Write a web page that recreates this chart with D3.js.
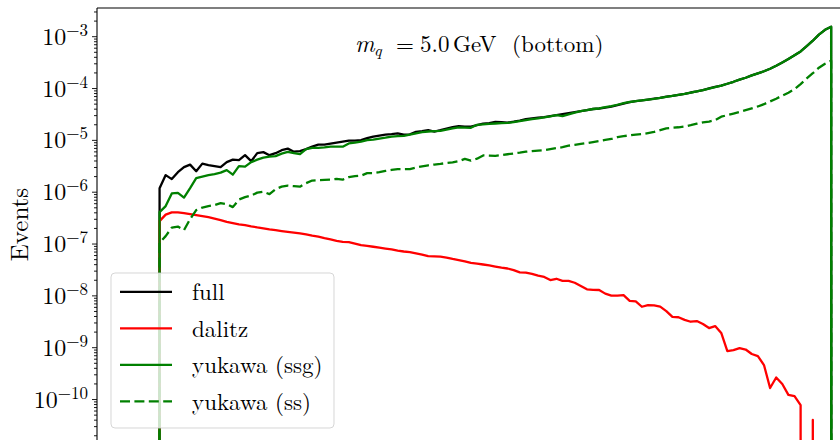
<!DOCTYPE html>
<html>
<head>
<meta charset="utf-8">
<script src="https://cdn.jsdelivr.net/npm/d3@7"></script>
<style>
  html, body { margin: 0; padding: 0; background: #fff; overflow: hidden; }
  svg { display: block; }
  text { font-family: "Latin Modern Roman", "CMU Serif", "Liberation Serif", serif; fill: #000; }
</style>
</head>
<body>
<svg id="chart" width="840" height="440"></svg>
<script>
// Histogram bin centres (GeV); the first and last bins lie outside the kinematic range.
const massBins = d3.range(9, 122);

// Events per bin, one array per contribution (bins 9 .. 121).
const fullEvents = [
  0,
  1.17e-6, 2.09e-6, 1.75e-6, 2.38e-6, 2.98e-6, 3.33e-6, 2.49e-6, 3.48e-6, 3.25e-6, 3.11e-6,
  2.98e-6, 3.72e-6, 4.15e-6, 4.06e-6, 5.07e-6, 3.88e-6, 5.54e-6, 5.80e-6, 5.07e-6, 5.54e-6,
  6.33e-6, 6.77e-6, 5.92e-6, 6.06e-6, 6.62e-6, 7.39e-6, 8.08e-6, 8.08e-6, 8.45e-6, 8.83e-6,
  9.23e-6, 9.65e-6, 9.65e-6, 9.88e-6, 1.08e-5, 1.15e-5, 1.21e-5, 1.26e-5, 1.29e-5, 1.33e-5,
  1.26e-5, 1.28e-5, 1.43e-5, 1.47e-5, 1.54e-5, 1.45e-5, 1.54e-5, 1.65e-5, 1.76e-5, 1.84e-5,
  1.80e-5, 1.80e-5, 1.92e-5, 2.05e-5, 2.10e-5, 2.22e-5, 2.20e-5, 2.15e-5, 2.24e-5, 2.35e-5,
  2.51e-5, 2.61e-5, 2.68e-5, 2.74e-5, 2.87e-5, 3.00e-5, 3.13e-5, 3.27e-5, 3.42e-5, 3.58e-5,
  3.74e-5, 3.94e-5, 4.03e-5, 4.18e-5, 4.37e-5, 4.67e-5, 4.99e-5, 5.33e-5, 5.58e-5, 5.76e-5,
  6.00e-5, 6.25e-5, 6.45e-5, 6.80e-5, 7.03e-5, 7.40e-5, 7.75e-5, 8.20e-5, 8.60e-5, 9.15e-5,
  9.80e-5, 1.05e-4, 1.11e-4, 1.21e-4, 1.32e-4, 1.45e-4, 1.58e-4, 1.75e-4, 1.92e-4, 2.11e-4,
  2.36e-4, 2.70e-4, 3.12e-4, 3.63e-4, 4.30e-4, 5.09e-4, 6.42e-4, 8.18e-4, 1.07e-3, 1.33e-3,
  1.52e-3,
  0
];

const dalitzEvents = [
  0,
  2.71e-7, 3.61e-7, 3.98e-7, 3.98e-7, 3.86e-7, 3.69e-7, 3.53e-7, 3.38e-7, 3.23e-7, 3.03e-7,
  2.83e-7, 2.62e-7, 2.48e-7, 2.35e-7, 2.27e-7, 2.15e-7, 2.05e-7, 1.97e-7, 1.88e-7, 1.81e-7,
  1.74e-7, 1.68e-7, 1.63e-7, 1.57e-7, 1.50e-7, 1.42e-7, 1.36e-7, 1.27e-7, 1.20e-7, 1.12e-7,
  1.08e-7, 1.06e-7, 9.98e-8, 9.30e-8, 9.04e-8, 8.67e-8, 8.31e-8, 8.01e-8, 7.73e-8, 7.30e-8,
  7.02e-8, 6.84e-8, 6.47e-8, 6.11e-8, 5.72e-8, 5.64e-8, 5.57e-8, 5.37e-8, 5.05e-8, 4.79e-8,
  4.52e-8, 4.23e-8, 4.08e-8, 3.94e-8, 3.80e-8, 3.60e-8, 3.43e-8, 3.30e-8, 3.07e-8, 2.78e-8,
  2.74e-8, 2.60e-8, 2.40e-8, 2.27e-8, 1.97e-8, 2.09e-8, 1.91e-8, 1.90e-8, 1.75e-8, 1.52e-8,
  1.31e-8, 1.28e-8, 1.27e-8, 1.08e-8, 9.91e-9, 9.91e-9, 1.01e-8, 7.86e-9, 7.69e-9, 6.03e-9,
  6.49e-9, 6.43e-9, 6.08e-9, 4.98e-9, 3.85e-9, 3.78e-9, 3.37e-9, 3.10e-9, 3.19e-9, 2.80e-9,
  2.34e-9, 2.56e-9, 1.88e-9, 8.42e-10, 8.81e-10, 9.62e-10, 9.01e-10, 7.39e-10, 6.75e-10, 4.52e-10,
  1.63e-10, 2.60e-10, 1.95e-10, 1.20e-10, 1.14e-10, 7.65e-11, 0, 3.94e-11, 0, 0,
  0,
  0
];

const yukawaSsgEvents = [
  0,
  4.03e-7, 5.27e-7, 9.28e-7, 9.51e-7, 7.68e-7, 1.17e-6, 1.83e-6, 1.95e-6, 2.09e-6, 2.18e-6,
  2.33e-6, 2.61e-6, 2.13e-6, 3.11e-6, 3.04e-6, 3.72e-6, 4.15e-6, 4.54e-6, 4.74e-6, 4.85e-6,
  5.42e-6, 5.87e-6, 5.54e-6, 5.30e-6, 6.62e-6, 7.02e-6, 7.02e-6, 7.15e-6, 7.39e-6, 7.39e-6,
  7.39e-6, 8.53e-6, 8.83e-6, 9.23e-6, 9.88e-6, 1.01e-5, 1.06e-5, 1.10e-5, 1.15e-5, 1.18e-5,
  1.19e-5, 1.26e-5, 1.34e-5, 1.41e-5, 1.45e-5, 1.47e-5, 1.49e-5, 1.57e-5, 1.66e-5, 1.74e-5,
  1.73e-5, 1.71e-5, 1.95e-5, 1.99e-5, 2.04e-5, 2.07e-5, 2.10e-5, 2.12e-5, 2.20e-5, 2.30e-5,
  2.40e-5, 2.51e-5, 2.61e-5, 2.71e-5, 2.84e-5, 3.00e-5, 2.87e-5, 3.09e-5, 3.34e-5, 3.58e-5,
  3.74e-5, 3.94e-5, 4.03e-5, 4.27e-5, 4.46e-5, 4.76e-5, 5.10e-5, 5.38e-5, 5.58e-5, 5.76e-5,
  5.96e-5, 6.17e-5, 6.45e-5, 6.72e-5, 7.03e-5, 7.35e-5, 7.70e-5, 8.13e-5, 8.59e-5, 9.10e-5,
  9.72e-5, 1.04e-4, 1.11e-4, 1.21e-4, 1.32e-4, 1.45e-4, 1.58e-4, 1.75e-4, 1.92e-4, 2.11e-4,
  2.36e-4, 2.70e-4, 3.12e-4, 3.63e-4, 4.30e-4, 5.09e-4, 6.42e-4, 8.18e-4, 1.07e-3, 1.33e-3,
  1.52e-3,
  0
];

const yukawaSsEvents = [
  0,
  1.04e-7, 1.39e-7, 2.03e-7, 2.12e-7, 1.81e-7, 2.96e-7, 4.41e-7, 4.94e-7, 5.27e-7, 5.51e-7,
  6.03e-7, 5.77e-7, 5.04e-7, 7.05e-7, 7.85e-7, 8.41e-7, 9.60e-7, 1.00e-6, 8.98e-7, 1.12e-6,
  1.25e-6, 1.31e-6, 1.28e-6, 1.25e-6, 1.46e-6, 1.64e-6, 1.67e-6, 1.69e-6, 1.71e-6, 1.76e-6,
  1.71e-6, 1.91e-6, 2.00e-6, 2.04e-6, 2.28e-6, 2.28e-6, 2.38e-6, 2.52e-6, 2.63e-6, 2.73e-6,
  2.73e-6, 2.73e-6, 2.91e-6, 3.09e-6, 3.23e-6, 3.34e-6, 3.44e-6, 3.57e-6, 3.68e-6, 3.88e-6,
  4.29e-6, 3.97e-6, 4.33e-6, 5.01e-6, 4.97e-6, 4.92e-6, 5.07e-6, 5.28e-6, 5.47e-6, 5.67e-6,
  5.92e-6, 6.06e-6, 6.19e-6, 6.30e-6, 6.62e-6, 6.92e-6, 7.23e-6, 7.72e-6, 8.00e-6, 8.35e-6,
  8.66e-6, 9.05e-6, 9.46e-6, 9.96e-6, 1.04e-5, 1.13e-5, 1.18e-5, 1.22e-5, 1.26e-5, 1.29e-5,
  1.35e-5, 1.42e-5, 1.54e-5, 1.66e-5, 1.71e-5, 1.75e-5, 1.81e-5, 1.92e-5, 2.05e-5, 2.17e-5,
  2.25e-5, 2.40e-5, 2.80e-5, 3.00e-5, 3.21e-5, 3.45e-5, 3.74e-5, 4.05e-5, 4.41e-5, 4.88e-5,
  5.52e-5, 6.23e-5, 7.13e-5, 8.13e-5, 9.50e-5, 1.19e-4, 1.53e-4, 1.93e-4, 2.47e-4, 2.95e-4,
  3.37e-4,
  0
];

const seriesNames = ["full", "dalitz", "yukawa (ssg)", "yukawa (ss)"];
const decadeExponents = [-10, -9, -8, -7, -6, -5, -4, -3];
const yLabel = "Events";

// ---- styling ----
const seriesStyles = [
  { color: "#000000", dash: null },
  { color: "#ff0000", dash: null },
  { color: "#008000", dash: null },
  { color: "#008000", dash: "10,4.4" }
];
const lineWidth = 2.3;

const svg = d3.select("#chart");
const plot = { left: 97, top: 8, right: 858, bottom: 441 };

const x = d3.scaleLinear().domain([-0.25, 124.4]).range([plot.left, plot.right]);
const y = d3.scaleLog().domain([1.55e-11, 3.5e-3]).range([plot.bottom, plot.top]);
// empty bins are pushed far below the axis, as a log axis clips non-positive values
const yPos = v => v > 0 ? y(v) : y(1e-300);

svg.append("defs").append("clipPath").attr("id", "plot-clip")
  .append("rect")
  .attr("x", plot.left).attr("y", plot.top)
  .attr("width", plot.right - plot.left).attr("height", plot.bottom - plot.top);

const seriesValues = [fullEvents, dalitzEvents, yukawaSsgEvents, yukawaSsEvents];

const line = d3.line()
  .x(d => x(d.m))
  .y(d => yPos(d.v));

const curves = svg.append("g").attr("clip-path", "url(#plot-clip)");
seriesValues.forEach((vals, i) => {
  const pts = massBins.map((m, j) => ({ m, v: vals[j] }));
  curves.append("path")
    .datum(pts)
    .attr("d", line)
    .attr("fill", "none")
    .attr("stroke", seriesStyles[i].color)
    .attr("stroke-width", lineWidth)
    .attr("stroke-linejoin", "round")
    .attr("stroke-dasharray", seriesStyles[i].dash);
});

// ---- y axis ----
const majorTicks = decadeExponents.map(e => Math.pow(10, e));
const minorTicks = [];
for (let e = -12; e <= -3; e++) {
  for (let k = 2; k <= 9; k++) {
    const v = k * Math.pow(10, e);
    if (v >= y.domain()[0] && v <= y.domain()[1]) minorTicks.push(v);
  }
}

const yAxisMinor = d3.axisLeft(y).tickValues(minorTicks).tickSize(3).tickFormat("");
const yAxisMajor = d3.axisLeft(y).tickValues(majorTicks).tickSize(5).tickFormat("");

[yAxisMinor, yAxisMajor].forEach(ax => {
  const g = svg.append("g").attr("transform", `translate(${plot.left},0)`).call(ax);
  g.select(".domain").remove();
  g.selectAll(".tick line").attr("stroke", "#000").attr("stroke-width", 0.9);
});

// tick labels 10^n
const labels = svg.append("g");
decadeExponents.forEach(e => {
  const t = labels.append("text")
    .attr("x", plot.left - 9)
    .attr("y", y(Math.pow(10, e)) + 8.5)
    .attr("text-anchor", "end")
    .style("font-size", "24px");
  t.append("tspan").text("10");
  t.append("tspan")
    .attr("dy", -9)
    .style("font-size", "17px")
    .text("\u2212" + Math.abs(e));
});

// spines (left and top; the others fall outside the view)
svg.append("line")
  .attr("x1", plot.left).attr("x2", plot.left)
  .attr("y1", plot.top).attr("y2", plot.bottom)
  .attr("stroke", "#000").attr("stroke-width", 1.1);
svg.append("line")
  .attr("x1", plot.left).attr("x2", plot.right)
  .attr("y1", plot.top).attr("y2", plot.top)
  .attr("stroke", "#000").attr("stroke-width", 1.1);
svg.append("line")
  .attr("x1", plot.left).attr("x2", plot.right)
  .attr("y1", plot.bottom).attr("y2", plot.bottom)
  .attr("stroke", "#000").attr("stroke-width", 1.1);

// y label
svg.append("text")
  .attr("transform", `translate(28,${(plot.top + plot.bottom) / 2}) rotate(-90)`)
  .attr("text-anchor", "middle")
  .style("font-size", "25px")
  .text(yLabel);

// annotation
const title = svg.append("text").attr("y", 51.5).style("font-size", "23px");
title.append("tspan").attr("x", 355).style("font-style", "italic").style("font-size", "24px").text("m");
title.append("tspan").attr("x", 374).attr("dy", 4.5).style("font-style", "italic").style("font-size", "16.5px").text("q");
title.append("tspan").attr("x", 396).attr("dy", -4.5).text("=");
title.append("tspan").attr("x", 420).text("5.0");
title.append("tspan").attr("x", 453).text("GeV");
title.append("tspan").attr("x", 512).text("(bottom)");

// legend
const legend = svg.append("g");
legend.append("rect")
  .attr("x", 111).attr("y", 273)
  .attr("width", 223).attr("height", 155)
  .attr("rx", 4).attr("ry", 4)
  .attr("fill", "#fff").attr("fill-opacity", 0.8)
  .attr("stroke", "#cccccc").attr("stroke-opacity", 0.8).attr("stroke-width", 1);

seriesNames.forEach((name, i) => {
  const cy = 291.8 + i * 36.5;
  legend.append("line")
    .attr("x1", 120).attr("x2", 172)
    .attr("y1", cy).attr("y2", cy)
    .attr("stroke", seriesStyles[i].color)
    .attr("stroke-width", lineWidth)
    .attr("stroke-dasharray", seriesStyles[i].dash);
  legend.append("text")
    .attr("x", 192).attr("y", cy + 8.5)
    .style("font-size", "23px")
    .text(name);
});
</script>
</body>
</html>
